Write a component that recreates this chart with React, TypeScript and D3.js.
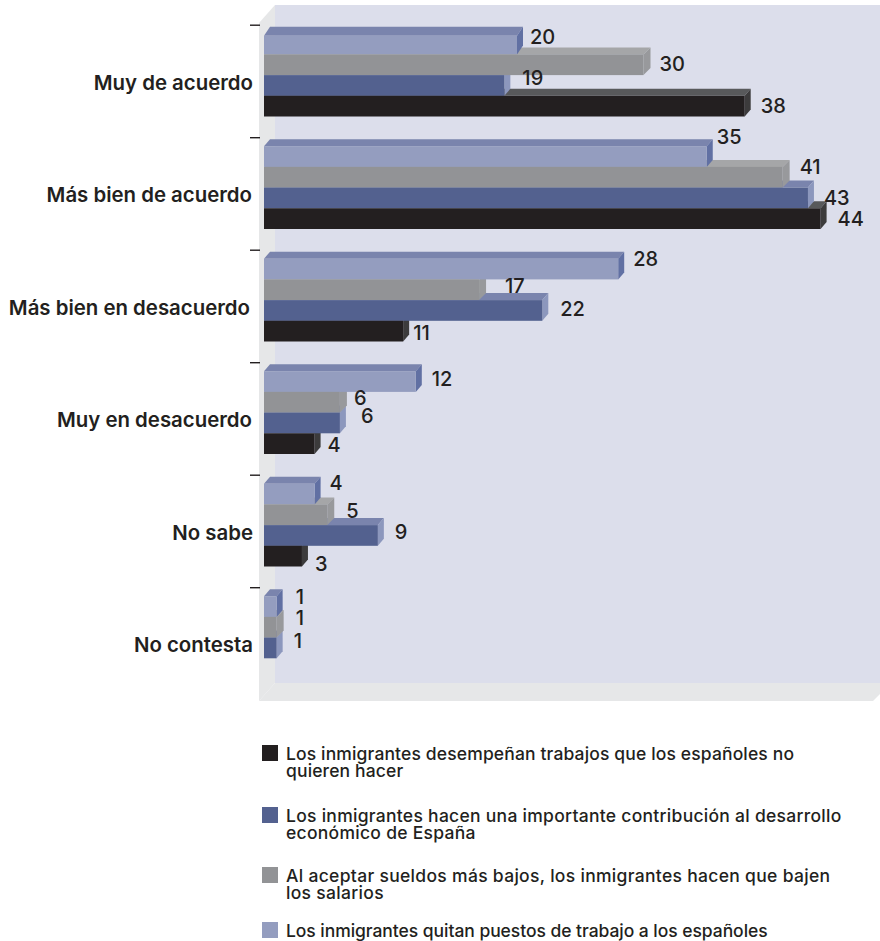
import React from "react";
import * as d3 from "d3";

const categories = ["Muy de acuerdo", "Más bien de acuerdo", "Más bien en desacuerdo", "Muy en desacuerdo", "No sabe", "No contesta"];
const quitan = [20, 35, 28, 12, 4, 1];
const sueldos = [30, 41, 17, 6, 5, 1];
const contribucion = [19, 43, 22, 6, 9, 1];
const desempenan: (number | null)[] = [38, 44, 11, 4, 3, null];

const seriesNames = ["quitan", "sueldos", "contribucion", "desempenan"];
const seriesValues = [quitan, sueldos, contribucion, desempenan];

const legendLines = [
  ["Los inmigrantes desempeñan trabajos que los españoles no", "quieren hacer"],
  ["Los inmigrantes hacen una importante contribución al desarrollo", "económico de España"],
  ["Al aceptar sueldos más bajos, los inmigrantes hacen que bajen", "los salarios"],
  ["Los inmigrantes quitan puestos de trabajo a los españoles"],
];

const styles: Record<string, { front: string; top: string; end: string; dx: number }> = {
  quitan: { front: "#949dbf", top: "#7a84ad", end: "#6170a3", dx: 6 },
  sueldos: { front: "#929396", top: "#a5a6a8", end: "#98999c", dx: 7 },
  contribucion: { front: "#53618f", top: "#7a84ad", end: "#8c97bd", dx: 6 },
  desempenan: { front: "#231f20", top: "#58595b", end: "#3c3b3c", dx: 6 },
};
const legendColors = ["#231f20", "#53618f", "#929396", "#949dbf"];
const legendSpacing = [0.14, 0.28, 0.31, -0.05];
const legendTops = [745, 807, 867, 922];
const categoryRight = [253, 252, 250, 252, 253, 253];

// label offsets from the end of each bar's front face / centre of bar
const nudges: Record<string, [number, number][]> = {
  quitan: [[13, -8], [10, -20], [15, -11], [16, -3], [15, -12], [19, -10]],
  sueldos: [[16, -2], [17, -11], [26, -5], [14, -5], [19, -5], [19, -10]],
  contribucion: [[18, -8], [16, -1], [18, -2], [21, -8], [17, -4], [17, -8]],
  desempenan: [[16, -1], [17, -1], [10, 1], [13, 0], [13, 7], [0, 0]],
};

const x = d3.scaleLinear().domain([0, 48]).range([264, 264 + 48 * 12.65]);
const step = 112.5;
const bandH = 82.8;
const y = d3
  .scaleBand<string>()
  .domain(categories)
  .range([33.7, 33.7 + 5 * step + bandH])
  .paddingInner(1 - bandH / step)
  .paddingOuter(0);
const inner = d3.scaleBand<string>().domain(seriesNames).range([0, y.bandwidth()]);
const tickY = (c: string) => (y(c) as number) - 8.5;
const ink = "#231f20";
const FONT = "Inter, 'Liberation Sans', Arial, sans-serif";
const poly = (p: number[][]) => p.map((q) => q.join(",")).join(" ");

export default function App() {
  const dy = 7;
  const depthOf = (ci: number) => (ci === 0 ? 9 : dy);
  const frontOrder = [...seriesNames].reverse();
  return (
    <svg width={880} height={941} viewBox="0 0 880 941" style={{ position: "absolute", left: 0, top: 0, display: "block", background: "#fff" }} fontFamily={FONT} fontWeight={500}>
      <polygon points={poly([[259, 23], [275, 5], [275, 683], [259, 701]])} fill="#e6e7e8" />
      <polygon points={poly([[259, 701], [275, 683], [880, 683], [880, 694], [873, 701]])} fill="#e6e7e8" />
      <rect x={275} y={5} width={605} height={678} fill="#dcdeeb" />

      {categories.map((c) => (
        <line key={c} x1={250} x2={260} y1={tickY(c)} y2={tickY(c)} stroke={ink} strokeWidth={1.4} />
      ))}

      {/* depth faces, front series first so that rear ones overlap */}
      {categories.map((c, ci) =>
        frontOrder.map((s) => {
          const v = seriesValues[seriesNames.indexOf(s)][ci];
          if (v == null) return null;
          const st = styles[s];
          const t = (y(c) as number) + (inner(s) as number);
          const h = inner.bandwidth();
          const x1 = x(v);
          const d = s === "quitan" ? depthOf(ci) : dy;
          const top = s === "quitan" && ci === 0 ? t + 2 : t;
          return (
            <g key={c + s}>
              <polygon points={poly([[x(0), top], [x(0) + st.dx, top - d], [x1 + st.dx, top - d], [x1, top]])} fill={st.top} />
              <polygon points={poly([[x1, top], [x1 + st.dx, top - d], [x1 + st.dx, t + h - d], [x1, t + h]])} fill={st.end} />
            </g>
          );
        })
      )}

      {/* front faces */}
      {categories.map((c, ci) =>
        seriesNames.map((s) => {
          const v = seriesValues[seriesNames.indexOf(s)][ci];
          if (v == null) return null;
          const t = (y(c) as number) + (inner(s) as number);
          const top = s === "quitan" && ci === 0 ? t + 2 : t;
          return <rect key={c + s} x={x(0)} y={top} width={x(v) - x(0)} height={t + inner.bandwidth() - top} fill={styles[s].front} />;
        })
      )}

      {/* value labels */}
      {categories.map((c, ci) =>
        seriesNames.map((s) => {
          const v = seriesValues[seriesNames.indexOf(s)][ci];
          if (v == null) return null;
          const [nx, ny] = nudges[s][ci];
          const cy = (y(c) as number) + (inner(s) as number) + inner.bandwidth() / 2;
          return (
            <text key={c + s} x={x(v) + nx} y={cy + ny + 0.7} dy="0.36em" fontSize={20} fill={ink}>
              {v}
            </text>
          );
        })
      )}

      {/* category labels */}
      {categories.map((c, ci) => (
        <text key={c} x={categoryRight[ci]} y={(y(c) as number) + 48.5} dy="0.36em" textAnchor="end" fontSize={20.4} fontWeight={600} fill={ink}>
          {c}
        </text>
      ))}

      {/* legend */}
      {legendLines.map((lines, i) => (
        <g key={i}>
          <rect x={262} y={legendTops[i]} width={16} height={16} fill={legendColors[i]} />
          {lines.map((t, j) => (
            <text key={j} x={286} y={legendTops[i] + 14.5 + j * 17} fontSize={17.5} letterSpacing={legendSpacing[i]} fill={ink}>
              {t}
            </text>
          ))}
        </g>
      ))}
    </svg>
  );
}
